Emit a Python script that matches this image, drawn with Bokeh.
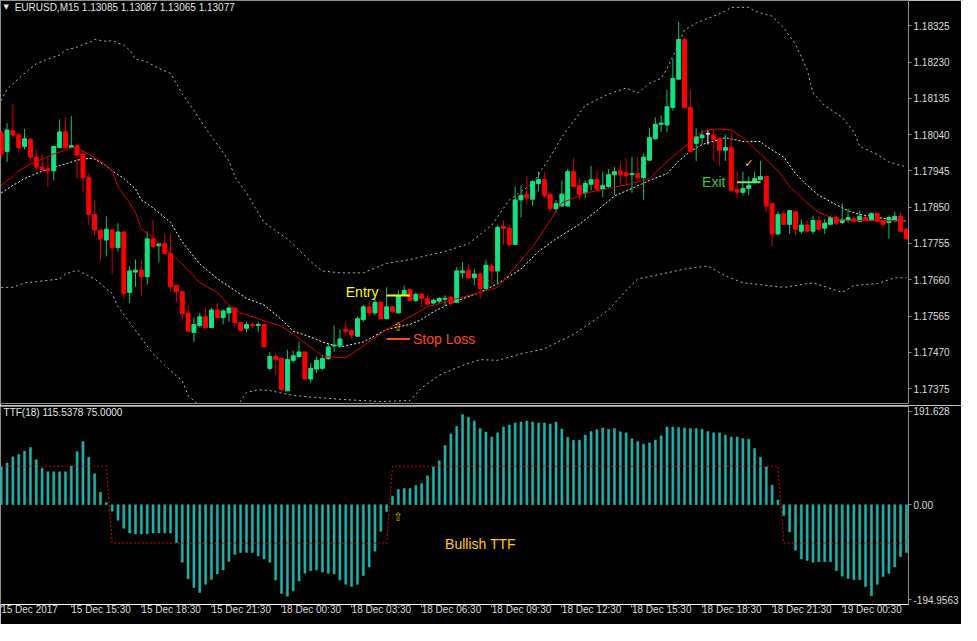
from bokeh.plotting import figure
from bokeh.layouts import column
from bokeh.models import Range1d, FixedTicker, PrintfTickFormatter, ColumnDataSource
from bokeh.core.properties import value
from bokeh.embed import file_html
from bokeh.resources import INLINE

# ---------------- data: EURUSD M15 candles ----------------
opens = [1.18045, 1.17996, 1.18050, 1.18039, 1.18009, 1.18027, 1.17981, 1.17955, 1.17950, 1.17945,
         1.18006, 1.18047, 1.18006, 1.18011, 1.17989, 1.17927, 1.17831, 1.17790, 1.17764, 1.17790,
         1.17744, 1.17785, 1.17627, 1.17680, 1.17685, 1.17668, 1.17767, 1.17749, 1.17754, 1.17729,
         1.17645, 1.17629, 1.17573, 1.17522, 1.17540, 1.17563, 1.17535, 1.17581, 1.17561, 1.17573,
         1.17586, 1.17548, 1.17533, 1.17543, 1.17540, 1.17543, 1.17428, 1.17459, 1.17454, 1.17369,
         1.17449, 1.17459, 1.17471, 1.17400, 1.17426, 1.17428, 1.17454, 1.17487, 1.17487, 1.17530,
         1.17527, 1.17512, 1.17556, 1.17589, 1.17573, 1.17601, 1.17558, 1.17589, 1.17573, 1.17619,
         1.17634, 1.17606, 1.17622, 1.17611, 1.17599, 1.17604, 1.17609, 1.17614, 1.17601, 1.17678,
         1.17685, 1.17665, 1.17675, 1.17637, 1.17696, 1.17683, 1.17800, 1.17795, 1.17752, 1.17869,
         1.17884, 1.17871, 1.17912, 1.17922, 1.17884, 1.17846, 1.17853, 1.17853, 1.17943, 1.17907,
         1.17887, 1.17910, 1.17922, 1.17897, 1.17904, 1.17935, 1.17945, 1.17940, 1.17935, 1.17938,
         1.17927, 1.17973, 1.18029, 1.18067, 1.18065, 1.18111, 1.18185, 1.18289, 1.18111, 1.18017,
         1.18032, 1.18042, 1.18039, 1.18029, 1.17999, 1.18006, 1.17897, 1.17889, 1.17899, 1.17915,
         1.17922, 1.17930, 1.17859, 1.17780, 1.17833, 1.17805, 1.17838, 1.17787, 1.17803, 1.17787,
         1.17815, 1.17795, 1.17805, 1.17823, 1.17810, 1.17815, 1.17820, 1.17813, 1.17823, 1.17815,
         1.17833, 1.17815, 1.17810, 1.17818, 1.17826, 1.17792]

highs = [1.18052, 1.18070, 1.18121, 1.18045, 1.18055, 1.18032, 1.18001, 1.17989, 1.17981, 1.18011,
         1.18080, 1.18085, 1.18088, 1.18014, 1.17999, 1.17938, 1.17869, 1.17792, 1.17826, 1.17792,
         1.17808, 1.17787, 1.17696, 1.17713, 1.17713, 1.17787, 1.17815, 1.17754, 1.17780, 1.17780,
         1.17645, 1.17629, 1.17594, 1.17561, 1.17573, 1.17586, 1.17586, 1.17599, 1.17583, 1.17591,
         1.17586, 1.17550, 1.17550, 1.17550, 1.17550, 1.17545, 1.17471, 1.17466, 1.17454, 1.17477,
         1.17474, 1.17499, 1.17471, 1.17441, 1.17459, 1.17464, 1.17492, 1.17540, 1.17530, 1.17550,
         1.17530, 1.17563, 1.17594, 1.17601, 1.17611, 1.17601, 1.17640, 1.17591, 1.17632, 1.17645,
         1.17637, 1.17627, 1.17624, 1.17622, 1.17611, 1.17614, 1.17619, 1.17619, 1.17693, 1.17706,
         1.17701, 1.17688, 1.17678, 1.17713, 1.17703, 1.17803, 1.17815, 1.17803, 1.17904, 1.17907,
         1.17932, 1.17920, 1.17943, 1.17943, 1.17884, 1.17869, 1.17920, 1.17950, 1.17978, 1.17927,
         1.17920, 1.17958, 1.17945, 1.17943, 1.17950, 1.17955, 1.17968, 1.17978, 1.17981, 1.17983,
         1.17991, 1.18057, 1.18085, 1.18090, 1.18157, 1.18238, 1.18335, 1.18292, 1.18159, 1.18057,
         1.18052, 1.18052, 1.18052, 1.18032, 1.18039, 1.18045, 1.17943, 1.17943, 1.17930, 1.17943,
         1.17971, 1.17930, 1.17861, 1.17838, 1.17841, 1.17843, 1.17841, 1.17818, 1.17815, 1.17828,
         1.17826, 1.17818, 1.17828, 1.17828, 1.17859, 1.17846, 1.17826, 1.17841, 1.17826, 1.17836,
         1.17836, 1.17826, 1.17828, 1.17838, 1.17836, 1.17795]

lows = [1.17976, 1.17968, 1.18034, 1.17996, 1.18001, 1.17968, 1.17945, 1.17943, 1.17904, 1.17920,
        1.18004, 1.18004, 1.18004, 1.17925, 1.17889, 1.17803, 1.17775, 1.17708, 1.17721, 1.17675,
        1.17734, 1.17611, 1.17599, 1.17642, 1.17617, 1.17647, 1.17744, 1.17706, 1.17729, 1.17627,
        1.17601, 1.17556, 1.17525, 1.17497, 1.17535, 1.17530, 1.17535, 1.17556, 1.17543, 1.17550,
        1.17535, 1.17527, 1.17522, 1.17533, 1.17522, 1.17484, 1.17423, 1.17410, 1.17369, 1.17369,
        1.17441, 1.17454, 1.17400, 1.17390, 1.17415, 1.17423, 1.17449, 1.17471, 1.17484, 1.17512,
        1.17505, 1.17512, 1.17550, 1.17563, 1.17568, 1.17556, 1.17556, 1.17573, 1.17573, 1.17619,
        1.17606, 1.17601, 1.17589, 1.17594, 1.17594, 1.17599, 1.17591, 1.17591, 1.17601, 1.17663,
        1.17663, 1.17645, 1.17611, 1.17637, 1.17650, 1.17647, 1.17752, 1.17747, 1.17752, 1.17823,
        1.17856, 1.17853, 1.17892, 1.17874, 1.17836, 1.17836, 1.17853, 1.17853, 1.17904, 1.17869,
        1.17874, 1.17894, 1.17894, 1.17876, 1.17899, 1.17881, 1.17912, 1.17910, 1.17887, 1.17920,
        1.17869, 1.17971, 1.18027, 1.18047, 1.18047, 1.18103, 1.18185, 1.18108, 1.17996, 1.17971,
        1.18014, 1.18014, 1.17971, 1.17958, 1.17971, 1.17892, 1.17874, 1.17881, 1.17881, 1.17912,
        1.17920, 1.17838, 1.17747, 1.17777, 1.17803, 1.17780, 1.17777, 1.17780, 1.17785, 1.17780,
        1.17790, 1.17780, 1.17803, 1.17803, 1.17805, 1.17810, 1.17810, 1.17810, 1.17813, 1.17813,
        1.17810, 1.17795, 1.17767, 1.17810, 1.17785, 1.17764]

closes = [1.17989, 1.18052, 1.18039, 1.18006, 1.18029, 1.17981, 1.17955, 1.17948, 1.17945, 1.18009,
          1.18047, 1.18006, 1.18011, 1.17986, 1.17927, 1.17831, 1.17790, 1.17767, 1.17792, 1.17744,
          1.17785, 1.17624, 1.17683, 1.17685, 1.17668, 1.17767, 1.17747, 1.17754, 1.17729, 1.17642,
          1.17629, 1.17571, 1.17525, 1.17543, 1.17563, 1.17535, 1.17581, 1.17561, 1.17578, 1.17586,
          1.17548, 1.17527, 1.17543, 1.17540, 1.17543, 1.17484, 1.17459, 1.17451, 1.17372, 1.17451,
          1.17461, 1.17471, 1.17400, 1.17428, 1.17449, 1.17454, 1.17484, 1.17489, 1.17505, 1.17525,
          1.17515, 1.17558, 1.17589, 1.17573, 1.17601, 1.17558, 1.17589, 1.17576, 1.17619, 1.17632,
          1.17606, 1.17622, 1.17611, 1.17596, 1.17606, 1.17611, 1.17611, 1.17599, 1.17683, 1.17683,
          1.17665, 1.17675, 1.17637, 1.17698, 1.17683, 1.17797, 1.17795, 1.17752, 1.17869, 1.17881,
          1.17874, 1.17917, 1.17922, 1.17881, 1.17846, 1.17859, 1.17884, 1.17943, 1.17904, 1.17884,
          1.17912, 1.17922, 1.17897, 1.17907, 1.17935, 1.17943, 1.17935, 1.17932, 1.17938, 1.17927,
          1.17981, 1.18032, 1.18067, 1.18070, 1.18113, 1.18187, 1.18289, 1.18111, 1.17996, 1.18034,
          1.18039, 1.18042, 1.18027, 1.17999, 1.18006, 1.17894, 1.17889, 1.17899, 1.17907, 1.17925,
          1.17930, 1.17853, 1.17780, 1.17831, 1.17805, 1.17841, 1.17792, 1.17803, 1.17787, 1.17815,
          1.17792, 1.17808, 1.17823, 1.17808, 1.17818, 1.17823, 1.17813, 1.17826, 1.17815, 1.17833,
          1.17813, 1.17805, 1.17823, 1.17826, 1.17787, 1.17767]

# Bollinger-style envelope (read at sampled bars)
upper_idx = [0, 1, 3, 5, 6, 8, 10, 11, 13, 15, 16, 18, 19, 21, 22, 23, 25, 27, 29, 30,
             31, 33, 35, 37, 39, 40, 42, 45, 49, 53, 55, 58, 62, 66, 70, 76, 80, 84, 87, 91,
             94, 96, 100, 104, 107, 109, 111, 113, 114, 116, 117, 119, 122, 124, 125, 128, 129, 132, 134, 136,
             138, 139, 141, 144, 146, 147, 150, 152, 155]
upper_val = [1.18129, 1.18159, 1.18187, 1.18213, 1.18225, 1.18238, 1.18248, 1.18261, 1.18269, 1.18281,
             1.18289, 1.18284, 1.18286, 1.18274, 1.18261, 1.18238, 1.18230, 1.18213, 1.18200, 1.18174,
             1.18146, 1.18103, 1.18057, 1.18014, 1.17971, 1.17930, 1.17887, 1.17810, 1.17767, 1.17708,
             1.17683, 1.17678, 1.17678, 1.17703, 1.17713, 1.17734, 1.17754, 1.17803, 1.17869, 1.17912,
             1.17981, 1.18034, 1.18116, 1.18146, 1.18162, 1.18149, 1.18174, 1.18187, 1.18213, 1.18276,
             1.18314, 1.18332, 1.18350, 1.18363, 1.18373, 1.18373, 1.18363, 1.18350, 1.18320, 1.18276,
             1.18210, 1.18149, 1.18116, 1.18085, 1.18047, 1.18009, 1.17988, 1.17968, 1.17955]

middle_idx = [0, 2, 4, 6, 8, 11, 13, 15, 16, 18, 19, 21, 23, 24, 26, 29, 31, 34, 37, 40,
              42, 45, 48, 50, 53, 55, 58, 62, 66, 70, 72, 74, 77, 82, 85, 89, 92, 95, 99, 102,
              105, 108, 111, 114, 116, 118, 120, 123, 124, 127, 130, 131, 134, 136, 138, 140, 143, 145, 147, 149,
              152, 155]
middle_val = [1.17887, 1.17907, 1.17925, 1.17938, 1.17950, 1.17963, 1.17973, 1.17978, 1.17976, 1.17958,
              1.17945, 1.17925, 1.17897, 1.17869, 1.17848, 1.17810, 1.17759, 1.17701, 1.17663, 1.17632,
              1.17611, 1.17594, 1.17556, 1.17525, 1.17510, 1.17497, 1.17484, 1.17497, 1.17530, 1.17543,
              1.17556, 1.17576, 1.17599, 1.17627, 1.17650, 1.17688, 1.17734, 1.17767, 1.17805, 1.17841,
              1.17879, 1.17899, 1.17920, 1.17938, 1.17971, 1.17996, 1.18014, 1.18027, 1.18032, 1.18022,
              1.18022, 1.18009, 1.17981, 1.17938, 1.17907, 1.17881, 1.17856, 1.17841, 1.17831, 1.17826,
              1.17818, 1.17813]

lower_idx = [0, 2, 4, 6, 10, 11, 13, 16, 19, 20, 26, 28, 31, 32, 36, 39, 42, 44, 46, 50,
             58, 65, 70, 72, 75, 79, 82, 85, 89, 93, 98, 101, 104, 107, 109, 114, 117, 121, 124, 127,
             134, 139, 144, 146, 150, 153, 155]
lower_val = [1.17640, 1.17640, 1.17652, 1.17655, 1.17662, 1.17675, 1.17685, 1.17662, 1.17624, 1.17589,
             1.17466, 1.17436, 1.17395, 1.17357, 1.17301, 1.17296, 1.17365, 1.17372, 1.17370, 1.17357,
             1.17347, 1.17341, 1.17344, 1.17377, 1.17410, 1.17436, 1.17451, 1.17449, 1.17466, 1.17479,
             1.17517, 1.17548, 1.17581, 1.17632, 1.17662, 1.17678, 1.17688, 1.17696, 1.17670, 1.17652,
             1.17640, 1.17652, 1.17627, 1.17645, 1.17650, 1.17665, 1.17665]

# red moving average
ma_idx = [0, 2, 3, 5, 7, 9, 11, 12, 13, 15, 17, 19, 20, 22, 23, 24, 26, 27, 29, 31,
          34, 37, 39, 41, 44, 46, 48, 50, 53, 55, 59, 62, 66, 70, 73, 77, 82, 85, 87, 91,
          94, 96, 100, 104, 108, 111, 113, 116, 118, 119, 121, 123, 125, 127, 130, 133, 135, 138, 140, 143,
          145, 150, 155]
ma_val = [1.17907, 1.17930, 1.17945, 1.17963, 1.17976, 1.17989, 1.17999, 1.18006, 1.18004, 1.17989,
          1.17971, 1.17945, 1.17904, 1.17861, 1.17836, 1.17792, 1.17772, 1.17754, 1.17729, 1.17701,
          1.17652, 1.17627, 1.17594, 1.17573, 1.17558, 1.17548, 1.17538, 1.17517, 1.17484, 1.17459,
          1.17456, 1.17487, 1.17530, 1.17563, 1.17589, 1.17606, 1.17627, 1.17640, 1.17675, 1.17747,
          1.17815, 1.17861, 1.17887, 1.17899, 1.17912, 1.17925, 1.17955, 1.17996, 1.18019, 1.18039,
          1.18052, 1.18055, 1.18052, 1.18032, 1.17989, 1.17945, 1.17904, 1.17861, 1.17836, 1.17818,
          1.17815, 1.17815, 1.17813]

# TTF(18) histogram and its signal line
ttf_values = [74.3, 81.3, 93.3, 97.8, 104.1, 111.7, 87.6, 71.1, 64.1, 64.1,
              64.1, 64.1, 75.6, 103.5, 123.2, 92.7, 60.3, 24.1, 4.4, -12.7,
              -30.5, -46.3, -55.2, -57.1, -57.1, -57.1, -55.2, -55.2, -55.2, -55.2,
              -74.3, -112.4, -144.8, -161.9, -171.4, -155.6, -146.0, -135.2, -127.6, -111.1,
              -97.1, -93.3, -93.3, -93.3, -100.3, -106.0, -112.4, -147.3, -173.3, -179.0,
              -168.3, -149.2, -134.0, -128.9, -127.6, -131.4, -134.0, -135.2, -147.3, -155.6,
              -160.0, -155.6, -138.4, -121.9, -90.8, -52.1, -13.3, 16.5, 29.8, 31.7,
              31.7, 37.5, 41.3, 56.5, 73.7, 85.7, 115.6, 138.4, 153.0, 175.9,
              170.8, 163.2, 148.6, 141.6, 132.1, 140.3, 151.7, 155.6, 159.4, 161.3,
              163.2, 161.3, 159.4, 159.4, 157.5, 161.3, 147.9, 131.4, 125.7, 125.7,
              135.9, 142.9, 146.0, 149.8, 147.3, 148.6, 142.2, 140.3, 128.9, 123.2,
              118.1, 120.6, 126.3, 134.6, 151.7, 151.7, 150.5, 149.8, 148.6, 148.6,
              147.3, 142.9, 140.3, 140.3, 135.9, 132.1, 132.1, 128.9, 127.6, 109.8,
              92.7, 73.7, 38.1, 8.9, -21.0, -53.3, -88.9, -106.0, -109.2, -112.4,
              -111.7, -111.7, -111.7, -128.9, -139.7, -144.1, -146.7, -146.7, -160.0, -177.8,
              -155.6, -140.3, -134.0, -121.9, -101.6, -93.3]

ttf_signal = [75, 75, 75, 75, 75, 75, 75, 75, 75, 75,
              75, 75, 75, 75, 75, 75, 75, 75, 75, -75,
              -75, -75, -75, -75, -75, -75, -75, -75, -75, -75,
              -75, -75, -75, -75, -75, -75, -75, -75, -75, -75,
              -75, -75, -75, -75, -75, -75, -75, -75, -75, -75,
              -75, -75, -75, -75, -75, -75, -75, -75, -75, -75,
              -75, -75, -75, -75, -75, -75, -75, 75, 75, 75,
              75, 75, 75, 75, 75, 75, 75, 75, 75, 75,
              75, 75, 75, 75, 75, 75, 75, 75, 75, 75,
              75, 75, 75, 75, 75, 75, 75, 75, 75, 75,
              75, 75, 75, 75, 75, 75, 75, 75, 75, 75,
              75, 75, 75, 75, 75, 75, 75, 75, 75, 75,
              75, 75, 75, 75, 75, 75, 75, 75, 75, 75,
              75, 75, 75, 75, -75, -75, -75, -75, -75, -75,
              -75, -75, -75, -75, -75, -75, -75, -75, -75, -75,
              -75, -75, -75, -75, -75, -75]

# axes
price_ticks = [1.17375, 1.17470, 1.17565, 1.17660, 1.17755, 1.17850, 1.17945, 1.18040, 1.18135, 1.18230, 1.18325]
ttf_axis_max = 191.628
ttf_axis_min = -194.9563
time_tick_bars = [0, 12, 24, 36, 48, 60, 72, 84, 96, 108, 120, 132, 144]
time_labels = ["15 Dec 2017", "15 Dec 15:30", "15 Dec 18:30", "15 Dec 21:30", "18 Dec 00:30",
               "18 Dec 03:30", "18 Dec 06:30", "18 Dec 09:30", "18 Dec 12:30", "18 Dec 15:30",
               "18 Dec 18:30", "18 Dec 21:30", "19 Dec 00:30"]

# trade annotations
entry_price = 1.17619
stop_price = 1.17505
exit_price = 1.17915
signal_bar = 68

header_text = "EURUSD,M15  1.13085 1.13087 1.13065 1.13077"
ttf_header = "TTF(18) 115.5378 75.0000"

# ---------------- styling ----------------
FONT = "Liberation Sans"
SYM_FONT = "DejaVu Sans"
BG = "#000000"
AXIS_TXT = "#dcdcdc"
FRAME = "#8c8c8c"
BULL = "#14e283"
BULL_WICK = "#0cc46c"
BEAR = "#ff0000"
BEAR_WICK = "#d80000"
DOJI = "#ffffff"

n = len(closes)
bars = list(range(n))
x_range = Range1d(-0.12, 155.35)

body_col, wick_col, tops, bottoms = [], [], [], []
for o, c in zip(opens, closes):
    if c > o:
        body_col.append(BULL); wick_col.append(BULL_WICK)
    elif c < o:
        body_col.append(BEAR); wick_col.append(BEAR_WICK)
    else:
        body_col.append(DOJI); wick_col.append(DOJI)
    tops.append(max(o, c)); bottoms.append(min(o, c))

src = ColumnDataSource(dict(x=bars, h=highs, l=lows, top=tops, bottom=bottoms,
                            body=body_col, wick=wick_col))

# ---------------- price panel ----------------
p1 = figure(width=961, height=405, x_range=x_range, y_range=Range1d(1.17336, 1.18391),
            x_axis_location=None, y_axis_location="right", toolbar_location=None,
            output_backend="svg", background_fill_color=BG, border_fill_color=BG,
            min_border_left=0, min_border_right=52, min_border_top=0, min_border_bottom=2,
            outline_line_color=FRAME)
p1.grid.visible = False

p1.line(upper_idx, upper_val, line_color="#b0b0b0", line_dash="2 3", line_width=1)
p1.line(lower_idx, lower_val, line_color="#b0b0b0", line_dash="2 3", line_width=1)
p1.line(middle_idx, middle_val, line_color="#f0f0f0", line_dash="2 2", line_width=1)

p1.segment(x0="x", y0="l", x1="x", y1="h", line_color="wick", line_width=1, source=src)
p1.vbar(x="x", width=0.68, top="top", bottom="bottom", fill_color="body",
        line_color="body", line_width=1, source=src)

p1.line(ma_idx, ma_val, line_color="#dd0000", line_width=1)

# trade marks
p1.segment(x0=[66], y0=[entry_price], x1=[70], y1=[entry_price], line_color="#ffff00", line_width=2)
p1.segment(x0=[66], y0=[stop_price], x1=[70], y1=[stop_price], line_color="#ff4a10", line_width=2)
p1.segment(x0=[126], y0=[exit_price], x1=[130], y1=[exit_price], line_color="#70ea60", line_width=2)

p1.text(x=[59.0], y=[1.17628], text=["Entry"], text_font=value(FONT), text_font_size="14px",
        text_color="#ffff00", text_align="left", text_baseline="middle")
p1.text(x=[70.5], y=[stop_price], text=["Stop Loss"], text_font=value(FONT), text_font_size="14px",
        text_color="#ff4a10", text_align="left", text_baseline="middle")
p1.text(x=[120.0], y=[1.17917], text=["Exit"], text_font=value(FONT), text_font_size="14px",
        text_color="#3cc43c", text_align="left", text_baseline="middle")
p1.text(x=[signal_bar], y=[1.17535], text=["\u21e7"], text_font=value(SYM_FONT), text_font_size="12px",
        text_color="#d8b400", text_align="center", text_baseline="middle")
p1.text(x=[128], y=[1.17963], text=["\u2713"], text_font=value(SYM_FONT), text_font_size="11px",
        text_color="#ffcc00", text_align="center", text_baseline="middle")

p1.text(x=[0.4], y=[1.18373], text=["\u25bc"], text_font=value(SYM_FONT), text_font_size="7px",
        text_color="#e6e6e6", text_align="left", text_baseline="middle")
p1.text(x=[2.3], y=[1.18373], text=[header_text], text_font=value(FONT), text_font_size="10px",
        text_color="#e6e6e6", text_align="left", text_baseline="middle")

ax1 = p1.yaxis[0]
ax1.ticker = FixedTicker(ticks=price_ticks)
ax1.formatter = PrintfTickFormatter(format="%.5f")
ax1.axis_line_color = FRAME
ax1.major_tick_line_color = FRAME
ax1.major_tick_out = 3
ax1.major_tick_in = 0
ax1.minor_tick_out = 0
ax1.minor_tick_in = 0
ax1.major_label_standoff = 2
ax1.major_label_text_font = FONT
ax1.major_label_text_font_size = "10px"
ax1.major_label_text_color = AXIS_TXT

# ---------------- TTF panel ----------------
p2 = figure(width=961, height=219, x_range=x_range, y_range=Range1d(ttf_axis_min, ttf_axis_max),
            x_axis_location="below", y_axis_location="right", toolbar_location=None,
            output_backend="svg", background_fill_color=BG, border_fill_color=BG,
            min_border_left=0, min_border_right=52, min_border_top=1, min_border_bottom=20,
            outline_line_color=FRAME)
p2.grid.visible = False

p2.vbar(x=bars, width=0.36, top=ttf_values, bottom=0, fill_color="#20b2aa",
        line_color="#20b2aa", line_width=0.5)
p2.line(bars, ttf_signal, line_color="#e00000", line_dash="2 2", line_width=1)

p2.text(x=[0.4], y=[180.0], text=[ttf_header], text_font=value(FONT), text_font_size="10px",
        text_color="#e6e6e6", text_align="left", text_baseline="middle")
p2.text(x=[76.0], y=[-76.0], text=["Bullish TTF"], text_font=value(FONT), text_font_size="14px",
        text_color="#ffcc00", text_align="left", text_baseline="middle")
p2.text(x=[signal_bar], y=[-24.0], text=["\u21e7"], text_font=value(SYM_FONT), text_font_size="12px",
        text_color="#d8b400", text_align="center", text_baseline="middle")

label_inset = 9.5
ttf_ticks = [ttf_axis_max - label_inset, 0, ttf_axis_min + label_inset]
ax2 = p2.yaxis[0]
ax2.ticker = FixedTicker(ticks=ttf_ticks)
ax2.major_label_overrides = {ttf_ticks[0]: "191.628", 0: "0.00", ttf_ticks[2]: "-194.9563"}
ax2.axis_line_color = FRAME
ax2.major_tick_line_color = FRAME
ax2.major_tick_out = 3
ax2.major_tick_in = 0
ax2.minor_tick_out = 0
ax2.minor_tick_in = 0
ax2.major_label_standoff = 2
ax2.major_label_text_font = FONT
ax2.major_label_text_font_size = "10px"
ax2.major_label_text_color = AXIS_TXT

xax = p2.xaxis[0]
xax.ticker = FixedTicker(ticks=time_tick_bars)
xax.major_label_overrides = {b: t for b, t in zip(time_tick_bars, time_labels)}
xax.axis_line_color = "#ffffff"
xax.major_tick_line_color = FRAME
xax.major_tick_out = 3
xax.major_tick_in = 0
xax.minor_tick_out = 0
xax.minor_tick_in = 0
xax.major_label_standoff = 2
xax.major_label_text_font = FONT
xax.major_label_text_font_size = "10px"
xax.major_label_text_color = AXIS_TXT
# a vanishingly small negative angle makes Bokeh anchor each label at its left end
xax.major_label_orientation = -1e-6

layout = column(p1, p2)
open("out.html", "w").write(file_html(layout, INLINE))
